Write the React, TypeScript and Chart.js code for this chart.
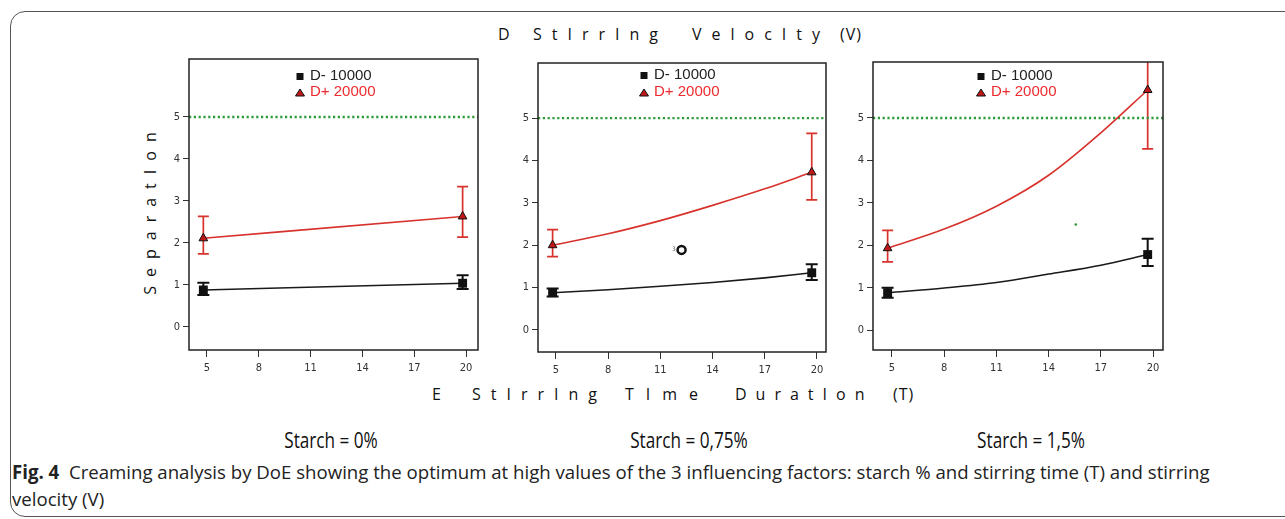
import React, { useEffect, useRef } from "react";
import { Chart, registerables } from "chart.js";
Chart.register(...registerables);

// ---------- DATA ----------
const X_TICKS = [5, 8, 11, 14, 17, 20];
const Y_TICKS = [0, 1, 2, 3, 4, 5];
const TARGET = 5;
const LEGEND_LOW = "D- 10000";
const LEGEND_HIGH = "D+ 20000";
const STARCH_LABELS = ["Starch = 0%", "Starch = 0,75%", "Starch = 1,5%"];

// Panel 1: Starch 0%
const P1_X = [4.79, 19.8];
const P1_LOW = [0.88, 1.04];
const P1_LOW_MIN = [0.76, 0.9];
const P1_LOW_MAX = [1.05, 1.23];
const P1_HIGH = [2.11, 2.63];
const P1_HIGH_MIN = [1.74, 2.14];
const P1_HIGH_MAX = [2.63, 3.34];
const P1_FIT_X = [4.79, 19.8];
const P1_FIT_LOW = [0.88, 1.04];
const P1_FIT_HIGH = [2.11, 2.63];

// Panel 2: Starch 0.75%
const P2_X = [4.81, 19.7];
const P2_LOW = [0.88, 1.35];
const P2_LOW_MIN = [0.79, 1.18];
const P2_LOW_MAX = [0.98, 1.55];
const P2_HIGH = [2.0, 3.72];
const P2_HIGH_MIN = [1.73, 3.07];
const P2_HIGH_MAX = [2.37, 4.64];
const P2_FIT_X = [4.81, 8, 11, 14, 17, 19.7];
const P2_FIT_LOW = [0.88, 0.95, 1.03, 1.12, 1.23, 1.35];
const P2_FIT_HIGH = [2.0, 2.27, 2.58, 2.94, 3.33, 3.72];
const P2_OUTLIER_X = [12.22];
const P2_OUTLIER_Y = [1.89];
const P2_OUTLIER_TAG = ["3"];

// Panel 3: Starch 1.5%
const P3_X = [4.75, 19.69];
const P3_LOW = [0.88, 1.78];
const P3_LOW_MIN = [0.76, 1.51];
const P3_LOW_MAX = [1.0, 2.15];
const P3_HIGH = [1.93, 5.66];
const P3_HIGH_MIN = [1.61, 4.27];
const P3_HIGH_MAX = [2.35, 6.6];
const P3_FIT_X = [4.75, 8, 11, 14, 17, 19.69];
const P3_FIT_LOW = [0.88, 0.99, 1.12, 1.32, 1.53, 1.78];
const P3_FIT_HIGH = [1.93, 2.38, 2.92, 3.65, 4.65, 5.66];
const P3_DOT_X = [15.56];
const P3_DOT_Y = [2.49];

// ---------- LAYOUT ----------
const PAD_L = 40;
const PAD_T = 12;
const PAD_R = 12;
const PAD_B = 35;

const BOXES = [
  { left: 189, top: 59, right: 478, bottom: 350, xMin: 3.96, xMax: 20.69, yMin: -0.55, yMax: 6.38, lx: 111, ly1: 17, ly2: 33 },
  { left: 538, top: 63, right: 826, bottom: 352, xMin: 3.97, xMax: 20.52, yMin: -0.52, yMax: 6.3, lx: 106, ly1: 12, ly2: 29 },
  { left: 873, top: 62, right: 1163, bottom: 350, xMin: 3.91, xMax: 20.57, yMin: -0.47, yMax: 6.32, lx: 108, ly1: 14, ly2: 30 },
];

const PANELS = [
  { x: P1_X, low: P1_LOW, lowMin: P1_LOW_MIN, lowMax: P1_LOW_MAX, high: P1_HIGH, highMin: P1_HIGH_MIN, highMax: P1_HIGH_MAX, fitX: P1_FIT_X, fitLow: P1_FIT_LOW, fitHigh: P1_FIT_HIGH },
  { x: P2_X, low: P2_LOW, lowMin: P2_LOW_MIN, lowMax: P2_LOW_MAX, high: P2_HIGH, highMin: P2_HIGH_MIN, highMax: P2_HIGH_MAX, fitX: P2_FIT_X, fitLow: P2_FIT_LOW, fitHigh: P2_FIT_HIGH },
  { x: P3_X, low: P3_LOW, lowMin: P3_LOW_MIN, lowMax: P3_LOW_MAX, high: P3_HIGH, highMin: P3_HIGH_MIN, highMax: P3_HIGH_MAX, fitX: P3_FIT_X, fitLow: P3_FIT_LOW, fitHigh: P3_FIT_HIGH },
];

const FONT_TEXT = "'Open Sans', 'Noto Sans', sans-serif";
const FONT_TICK = "'Liberation Sans Narrow', 'DejaVu Sans Condensed', Roboto, sans-serif";
const RED = "#d8322c";
const GREEN = "#2f9a3a";

const zip = (xs: number[], ys: number[]) => xs.map((x, i) => ({ x, y: ys[i] }));

// ---------- PLUGINS ----------
const errorBarPlugin = {
  id: "errorBars",
  beforeDatasetsDraw(chart: any) {
    const { ctx, chartArea, scales } = chart;
    ctx.save();
    ctx.beginPath();
    ctx.rect(chartArea.left, chartArea.top, chartArea.right - chartArea.left, chartArea.bottom - chartArea.top);
    ctx.clip();
    chart.data.datasets.forEach((ds: any) => {
      if (!ds.errMin) return;
      ds.data.forEach((p: any, i: number) => {
        const px = scales.x.getPixelForValue(p.x);
        const y1 = scales.y.getPixelForValue(ds.errMin[i]);
        const y2 = scales.y.getPixelForValue(ds.errMax[i]);
        ctx.strokeStyle = ds.errColor;
        ctx.lineWidth = ds.errWidth;
        ctx.beginPath();
        ctx.moveTo(px, y1);
        ctx.lineTo(px, y2);
        ctx.moveTo(px - ds.capHalf, y1);
        ctx.lineTo(px + ds.capHalf, y1);
        ctx.moveTo(px - ds.capHalf, y2);
        ctx.lineTo(px + ds.capHalf, y2);
        ctx.stroke();
      });
    });
    // target line
    const ty = scales.y.getPixelForValue(TARGET);
    ctx.strokeStyle = GREEN;
    ctx.lineWidth = 2.4;
    ctx.setLineDash([2.2, 2.6]);
    ctx.beginPath();
    ctx.moveTo(chartArea.left, ty);
    ctx.lineTo(chartArea.right, ty);
    ctx.stroke();
    ctx.restore();
  },
};

const decorPlugin = {
  id: "decor",
  afterDatasetsDraw(chart: any, _args: any, opts: any) {
    const { ctx, chartArea, scales } = chart;
    ctx.save();
    // frame
    ctx.strokeStyle = "#222";
    ctx.lineWidth = 1.5;
    ctx.strokeRect(chartArea.left, chartArea.top, chartArea.right - chartArea.left, chartArea.bottom - chartArea.top);
    // tags next to points
    chart.data.datasets.forEach((ds: any) => {
      if (!ds.tags) return;
      ds.data.forEach((p: any, i: number) => {
        const px = scales.x.getPixelForValue(p.x);
        const py = scales.y.getPixelForValue(p.y);
        ctx.fillStyle = "#555";
        ctx.font = "6px " + FONT_TICK;
        ctx.textAlign = "right";
        ctx.textBaseline = "middle";
        ctx.fillText(ds.tags[i], px - 6, py);
      });
    });
    // legend
    const lx = chartArea.left + opts.lx;
    const y1 = chartArea.top + opts.ly1;
    const y2 = chartArea.top + opts.ly2;
    ctx.fillStyle = "#111";
    ctx.fillRect(lx - 3.5, y1 - 3, 7, 7);
    ctx.beginPath();
    ctx.moveTo(lx, y2 - 3);
    ctx.lineTo(lx + 4.5, y2 + 4);
    ctx.lineTo(lx - 4.5, y2 + 4);
    ctx.closePath();
    ctx.fillStyle = "#c01818";
    ctx.fill();
    ctx.strokeStyle = "#111";
    ctx.lineWidth = 1;
    ctx.stroke();
    ctx.font = "15px 'Liberation Sans', Arial, sans-serif";
    ctx.textAlign = "left";
    ctx.textBaseline = "middle";
    ctx.fillStyle = "#222";
    ctx.fillText(LEGEND_LOW, lx + 10, y1);
    ctx.fillStyle = "#ec2a2e";
    ctx.fillText(LEGEND_HIGH, lx + 10, y2);
    ctx.restore();
  },
};

function makeConfig(idx: number): any {
  const d = PANELS[idx];
  const box = BOXES[idx];
  const datasets: any[] = [
    {
      label: LEGEND_LOW, data: zip(d.x, d.low), pointStyle: "rect", pointRadius: 6.3,
      backgroundColor: "#111", borderColor: "#111", borderWidth: 0,
      errMin: d.lowMin, errMax: d.lowMax, errColor: "#111", errWidth: 2, capHalf: 6,
    },
    {
      label: LEGEND_HIGH, data: zip(d.x, d.high), pointStyle: "triangle", pointRadius: 5,
      backgroundColor: "#c01818", borderColor: "#111", borderWidth: 1,
      errMin: d.highMin, errMax: d.highMax, errColor: RED, errWidth: 1.7, capHalf: 5.5,
    },
  ];
  if (idx === 1) {
    datasets.push({
      label: "outlier", data: zip(P2_OUTLIER_X, P2_OUTLIER_Y), pointStyle: "circle", pointRadius: 4,
      backgroundColor: "#fff", borderColor: "#111", borderWidth: 2.5, tags: P2_OUTLIER_TAG,
    });
  }
  if (idx === 2) {
    datasets.push({
      label: "dot", data: zip(P3_DOT_X, P3_DOT_Y), pointStyle: "circle", pointRadius: 1.3,
      backgroundColor: GREEN, borderColor: GREEN, borderWidth: 0,
    });
  }
  datasets.push(
    { label: "fitLow", data: zip(d.fitX, d.fitLow), showLine: true, borderColor: "#1a1a1a", borderWidth: 1.6, pointRadius: 0, cubicInterpolationMode: "monotone", fill: false },
    { label: "fitHigh", data: zip(d.fitX, d.fitHigh), showLine: true, borderColor: RED, borderWidth: 1.6, pointRadius: 0, cubicInterpolationMode: "monotone", fill: false },
  );
  return {
    type: "scatter",
    data: { datasets },
    plugins: [errorBarPlugin, decorPlugin],
    options: {
      responsive: false,
      animation: false,
      devicePixelRatio: 1,
      events: [],
      layout: { padding: { top: PAD_T, right: PAD_R, left: 0, bottom: 0 } },
      plugins: {
        legend: { display: false },
        tooltip: { enabled: false },
        title: { display: false },
        decor: { lx: box.lx, ly1: box.ly1, ly2: box.ly2 },
      },
      scales: {
        x: {
          type: "linear", min: box.xMin, max: box.xMax,
          afterBuildTicks: (s: any) => { s.ticks = X_TICKS.map((v) => ({ value: v })); },
          afterFit: (s: any) => { s.height = PAD_B; s.paddingLeft = 0; s.paddingRight = 0; },
          grid: { drawOnChartArea: false, drawTicks: true, tickLength: 7, color: "#333", lineWidth: 1 },
          border: { display: false },
          ticks: { padding: 5, color: "#333", font: { family: FONT_TICK, size: 11 }, maxRotation: 0, autoSkip: false, callback: (v: any) => String(v) },
        },
        y: {
          type: "linear", min: box.yMin, max: box.yMax,
          afterBuildTicks: (s: any) => { s.ticks = Y_TICKS.map((v) => ({ value: v })); },
          afterFit: (s: any) => { s.width = PAD_L; s.paddingTop = 0; s.paddingBottom = 0; },
          grid: { drawOnChartArea: false, drawTicks: true, tickLength: 6, color: "#333", lineWidth: 1 },
          border: { display: false },
          ticks: { padding: 3, color: "#333", font: { family: FONT_TICK, size: 11 }, autoSkip: false, callback: (v: any) => String(v) },
        },
      },
    },
  };
}

function Panel({ idx }: { idx: number }) {
  const ref = useRef<HTMLCanvasElement>(null);
  const box = BOXES[idx];
  const w = box.right - box.left + PAD_L + PAD_R;
  const h = box.bottom - box.top + PAD_T + PAD_B;
  useEffect(() => {
    const chart = new Chart(ref.current as HTMLCanvasElement, makeConfig(idx));
    return () => chart.destroy();
  }, [idx]);
  return (
    <canvas
      ref={ref}
      width={w}
      height={h}
      style={{ position: "absolute", left: box.left - PAD_L, top: box.top - PAD_T, width: w, height: h }}
    />
  );
}

const wordStyle = (left: number, top: number, spacing: number): React.CSSProperties => ({
  position: "absolute", left, top, fontFamily: FONT_TEXT, fontSize: 16, lineHeight: "20px",
  letterSpacing: spacing, whiteSpace: "nowrap", color: "#111",
});

export default function App() {
  const titleWords: [string, number, number][] = [["D", 498, 0], ["StIrrIng", 533, 10], ["VelocIty", 692, 10], ["(V)", 840, 1]];
  const xWords: [string, number, number][] = [["E", 432, 0], ["StIrrIng", 472, 10], ["TIme", 625, 12], ["DuratIon", 735, 9], ["(T)", 893, 1]];
  const starchX = [331, 689, 1031];
  return (
    <div style={{ position: "fixed", left: 0, top: 0, width: 1285, height: 519, overflow: "hidden", background: "#fff" }}>
      <div style={{ position: "absolute", left: 10, top: 11, width: 1300, height: 504, border: "1px solid #555", borderRadius: 15 }} />
      {titleWords.map(([t, x, s]) => (
        <div key={"t" + t} style={wordStyle(x, 24, s)}>{t}</div>
      ))}
      {xWords.map(([t, x, s]) => (
        <div key={"x" + t} style={wordStyle(x, 384, s)}>{t}</div>
      ))}
      <div
        style={{
          position: "absolute", left: 50, top: 199, width: 200, height: 20, textAlign: "center",
          fontFamily: FONT_TEXT, fontSize: 16, lineHeight: "20px", letterSpacing: 9, color: "#111",
          transform: "rotate(-90deg)", whiteSpace: "nowrap",
        }}
      >
        SeparatIon
      </div>
      {[0, 1, 2].map((i) => (
        <Panel key={i} idx={i} />
      ))}
      {STARCH_LABELS.map((s, i) => (
        <div
          key={s}
          style={{
            position: "absolute", left: starchX[i], top: 424, fontFamily: FONT_TEXT, fontSize: 22,
            lineHeight: "30px", whiteSpace: "nowrap", color: "#111",
            transform: "translateX(-50%) scaleX(0.78)",
          }}
        >
          {s}
        </div>
      ))}
      <div
        style={{
          position: "absolute", left: 12, top: 459, fontFamily: FONT_TEXT, fontSize: 19,
          lineHeight: "27px", color: "#222", whiteSpace: "nowrap", transformOrigin: "left top",
          transform: "scaleX(0.98)",
        }}
      >
        <b>Fig. 4</b>&nbsp; Creaming analysis by DoE showing the optimum at high values of the 3 influencing factors: starch % and stirring time (T) and stirring
        <br />
        velocity (V)
      </div>
    </div>
  );
}
